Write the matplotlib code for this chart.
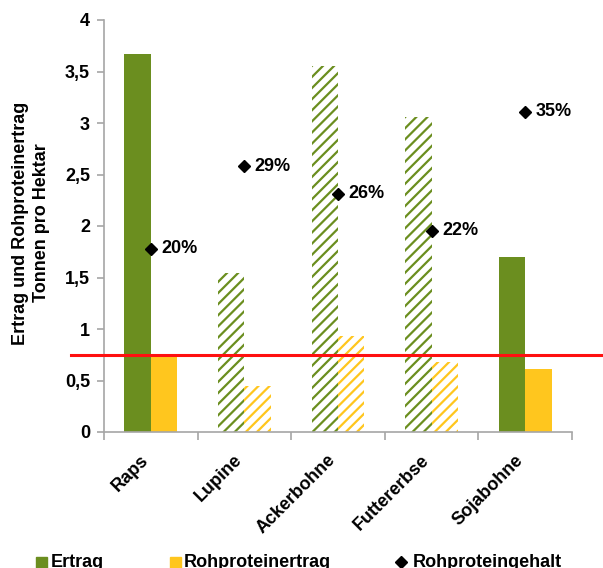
import matplotlib
matplotlib.use("Agg")
import matplotlib.pyplot as plt
import numpy as np
from matplotlib.patches import Rectangle
from matplotlib.lines import Line2D
from matplotlib.transforms import blended_transform_factory

# Ertrag / Rohproteinertrag in t/ha, Rohproteingehalt in %
kulturen = ["Raps", "Lupine", "Ackerbohne", "Futtererbse", "Sojabohne"]
ertrag = [3.67, 1.54, 3.55, 3.06, 1.70]
rohproteinertrag = [0.73, 0.45, 0.93, 0.68, 0.61]
rohproteingehalt = [20, 29, 26, 22, 35]
schraffiert = [False, True, True, True, False]
referenz = 0.75
legende = ["Ertrag", "Rohproteinertrag", "Rohproteingehalt"]

GRUEN = "#6B8E1F"
GELB = "#FFC61E"
GRAU = "#A6A6A6"
FS = 13

plt.rcParams["font.family"] = ["Liberation Sans", "DejaVu Sans"]
plt.rcParams["font.weight"] = "bold"
plt.rcParams["hatch.linewidth"] = 1.6

fig = plt.figure(figsize=(6.03, 5.68), dpi=100)
ax = fig.add_axes([104 / 603, 1 - 432 / 568, 468 / 603, 412 / 568])

x = np.arange(len(kulturen))
b = 0.283
for i in range(len(kulturen)):
    if schraffiert[i]:
        ax.bar(x[i] - b / 2, ertrag[i], b, facecolor="white", edgecolor=GRUEN,
               hatch="///", linewidth=0)
        ax.bar(x[i] + b / 2, rohproteinertrag[i], b, facecolor="white", edgecolor=GELB,
               hatch="///", linewidth=0)
    else:
        ax.bar(x[i] - b / 2, ertrag[i], b, color=GRUEN, linewidth=0)
        ax.bar(x[i] + b / 2, rohproteinertrag[i], b, color=GELB, linewidth=0)

ax.set_xlim(-0.5, len(kulturen) - 0.5)
ax.set_ylim(0, 4)
yt = np.arange(0, 4.01, 0.5)
ax.set_yticks(yt)
ax.set_yticklabels([f"{v:g}".replace(".", ",") for v in yt],
                   fontsize=FS, fontweight="bold")
ax.set_xticks(np.arange(-0.5, len(kulturen)), labels=[])
ax.tick_params(axis="x", length=6, color=GRAU, width=1.2)
ax.tick_params(axis="y", length=5, color=GRAU, width=1.2, pad=5)
for s in ["top", "right"]:
    ax.spines[s].set_visible(False)
for s in ["left", "bottom"]:
    ax.spines[s].set_color(GRAU)
    ax.spines[s].set_linewidth(1.2)

# Kategorienamen schräg unter den Gruppen
for xi, name in zip(x, kulturen):
    ax.annotate(name, (xi, 0), xycoords=("data", "axes fraction"),
                xytext=(-8, -14), textcoords="offset points",
                ha="right", va="top", rotation=45, rotation_mode="anchor",
                fontsize=FS, fontweight="bold")

# Rohproteingehalt auf verdeckter Sekundärachse (0-45 %)
ax2 = ax.twinx()
ax2.set_ylim(0, 45)
ax2.axis("off")
ax2.plot(x, rohproteingehalt, linestyle="none", marker="D", color="black",
         markersize=6.5)
for xi, v in zip(x, rohproteingehalt):
    ax2.annotate(f"{v}%", (xi, v), xytext=(7.5, 0), textcoords="offset points",
                 va="center", ha="left", fontsize=FS, fontweight="bold")

# rote Referenzlinie über die ganze Breite
trans = blended_transform_factory(fig.transFigure, ax.transData)
fig.add_artist(Line2D([71 / 603, 1.0], [referenz, referenz], transform=trans,
                      color="#FF1010", linewidth=2.2))

fig.text(31 / 603, 1 - 223 / 568, "Ertrag und Rohproteinertrag\nTonnen pro Hektar",
         rotation=90, ha="center", va="center", multialignment="center",
         fontsize=FS, fontweight="bold", linespacing=1.25)

# Legende unten
y_txt = 1 - 554 / 568
y_sq = 1 - 557 / 568
sq = 11
fig.add_artist(Rectangle((36 / 603, y_sq - sq / 568), sq / 603, sq / 568,
                         transform=fig.transFigure, color=GRUEN))
fig.text(51 / 603, y_txt, legende[0], fontsize=FS, fontweight="bold", va="top")
fig.add_artist(Rectangle((170 / 603, y_sq - sq / 568), sq / 603, sq / 568,
                         transform=fig.transFigure, color=GELB))
fig.text(184 / 603, y_txt, legende[1], fontsize=FS, fontweight="bold", va="top")
fig.add_artist(Line2D([401 / 603], [1 - 562 / 568], marker="D", color="black",
                      markersize=6.5, transform=fig.transFigure))
fig.text(413 / 603, y_txt, legende[2], fontsize=FS, fontweight="bold", va="top")

fig.savefig("out.png", dpi=100)
